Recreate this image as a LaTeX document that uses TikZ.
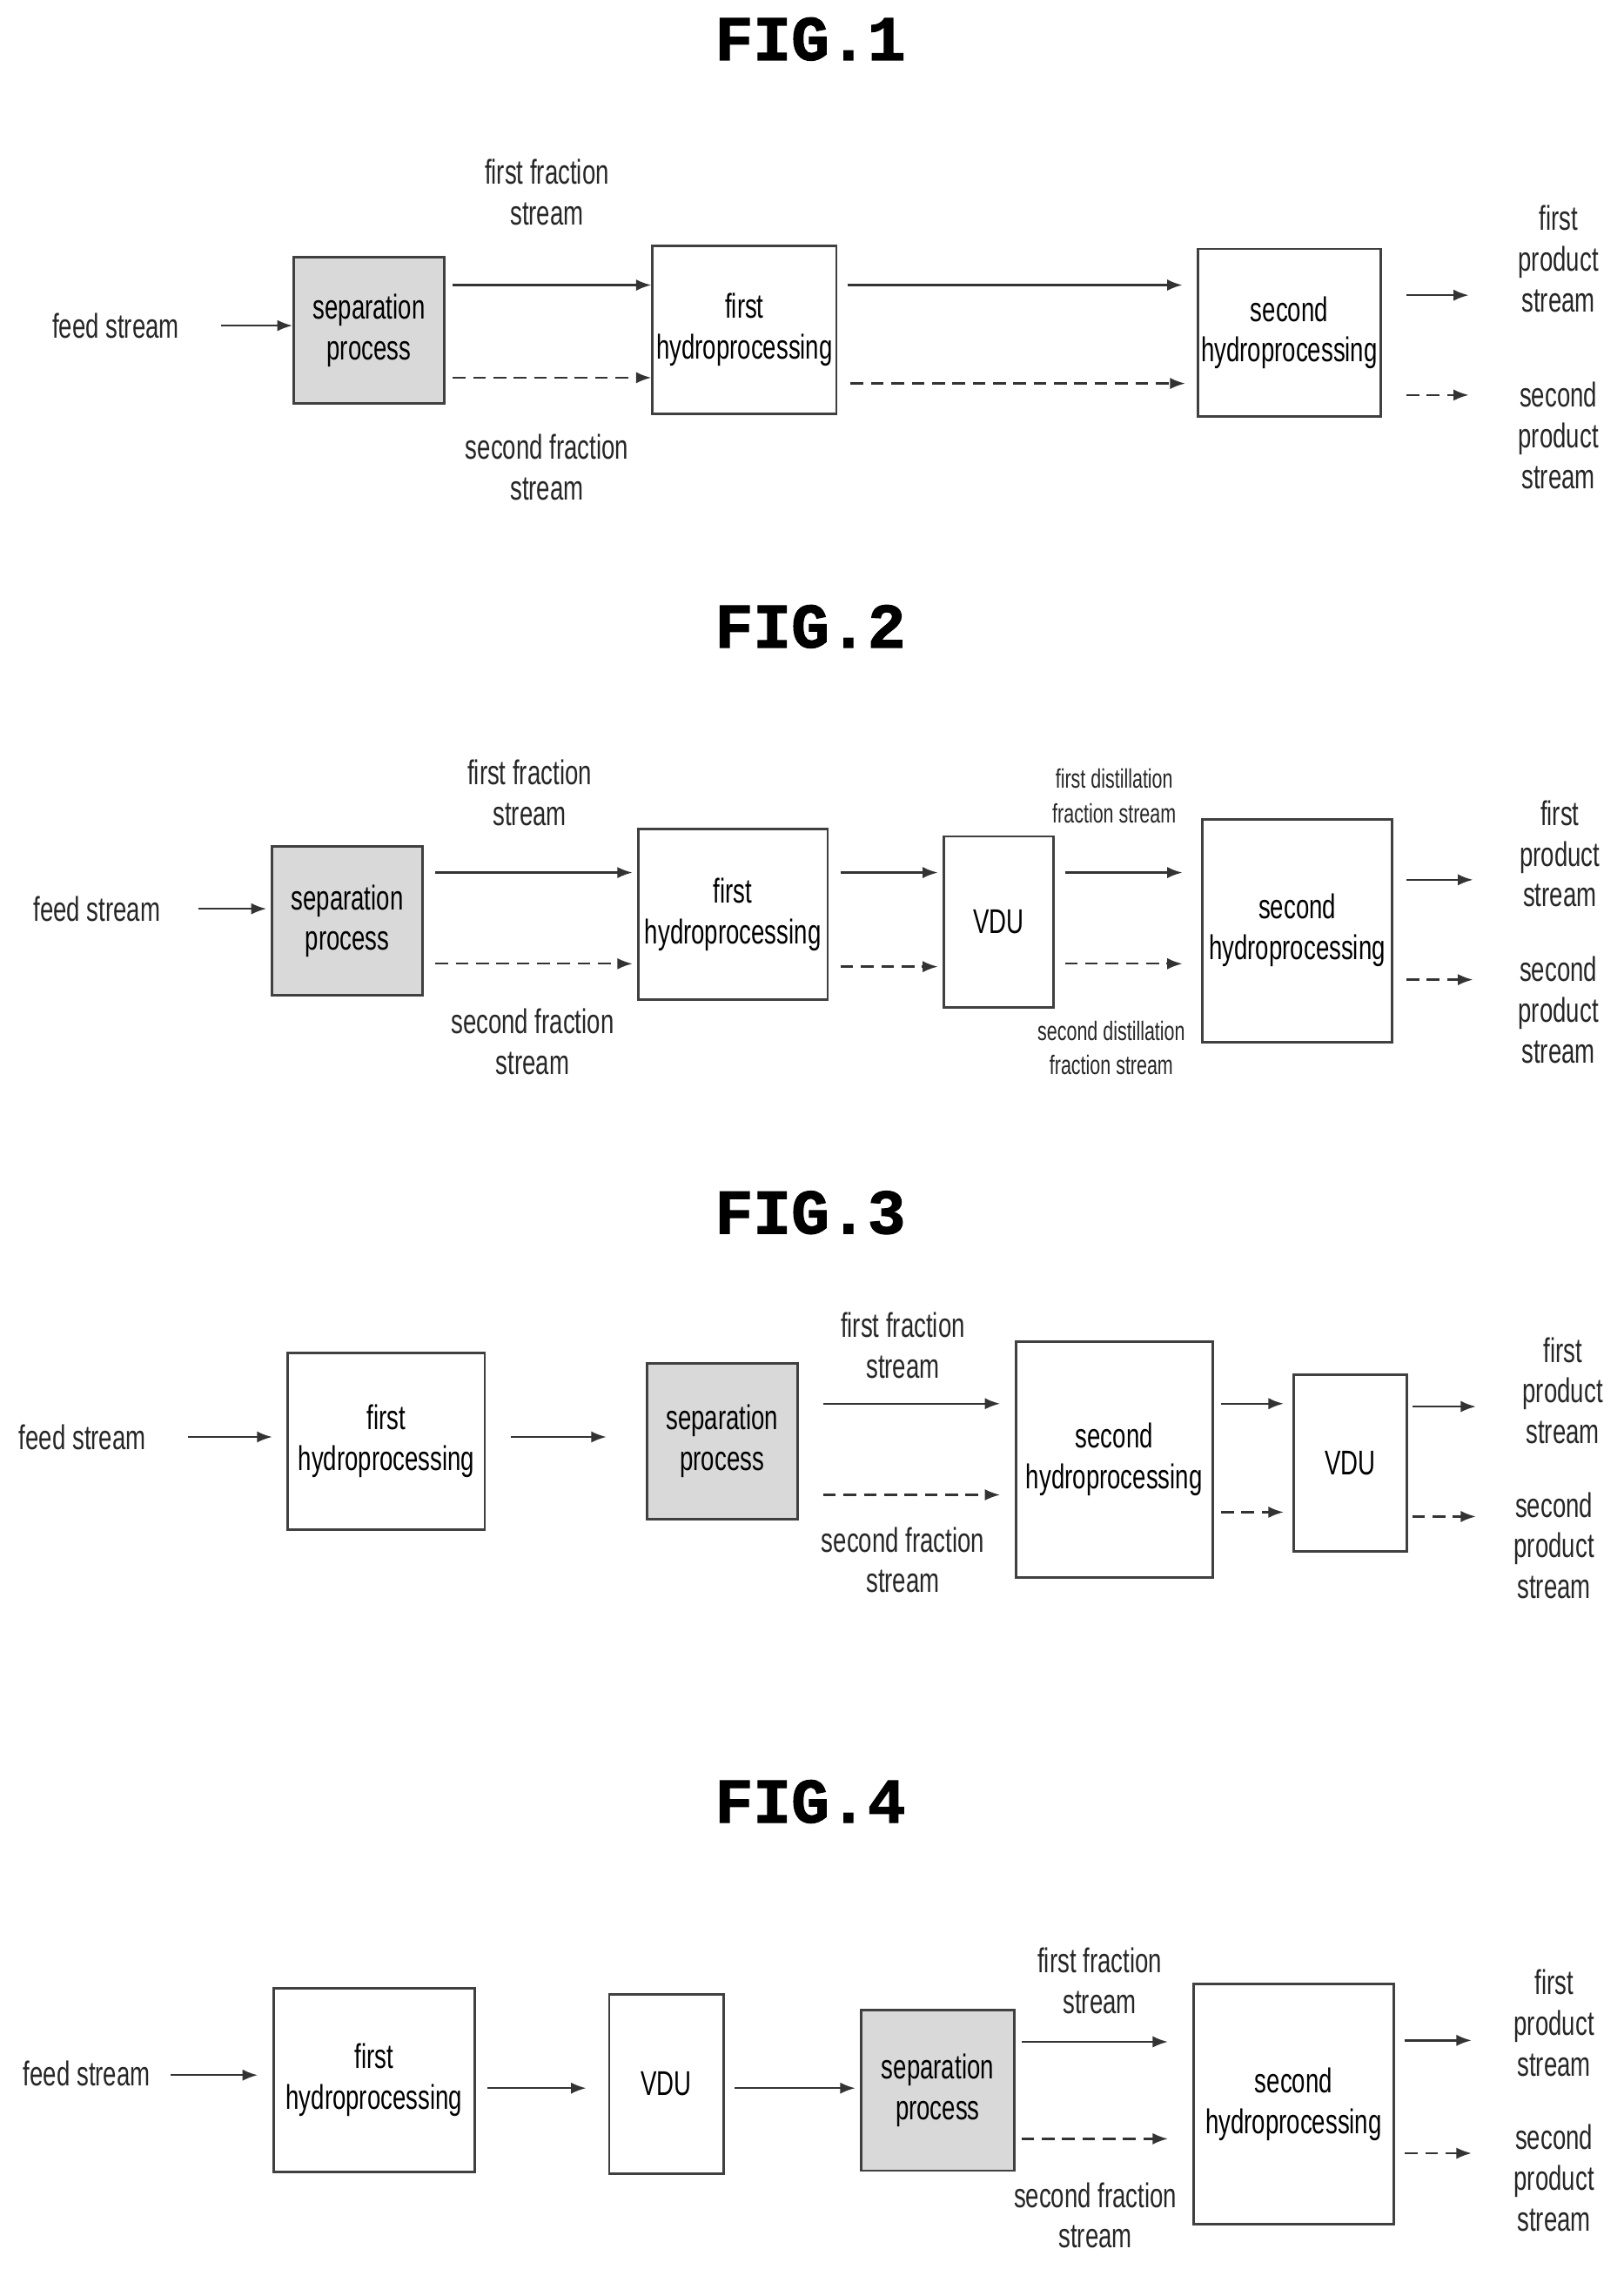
\documentclass[tikz,border=0pt]{standalone}
\usepackage{fontspec}
\setmainfont{Liberation Sans}[FakeStretch=0.7]
\newfontfamily\figfont{Liberation Mono}[FakeBold=1.5]
\usetikzlibrary{arrows.meta}
\begin{document}
\begin{tikzpicture}[x=0.02cm,y=-0.02cm,
 lab/.style={align=center,font=\fontsize{13.5}{16}\selectfont,text=black!85},
 sml/.style={align=center,font=\fontsize{10.5}{13.5}\selectfont,text=black!85},
 ttl/.style={font=\figfont\fontsize{25}{28}\selectfont\bfseries},
 arr/.style={-{Latex[length=6pt,width=4.5pt]},line width=0.8pt,draw=black!80},
 dsh/.style={arr,dash pattern=on 5pt off 3pt},
 bx/.style={draw=black!75,line width=1pt,inner sep=0pt,align=center,font=\fontsize{13.5}{16}\selectfont},
 gr/.style={bx,fill=black!15}]
\newcommand\bx[7]{\node[#7,minimum width={(#4-#2)*0.02cm},minimum height={(#5-#3)*0.02cm}] (#1) at ({(#2+#4)/2},{(#3+#5)/2}) {#6};}
\useasboundingbox (0,0) rectangle (1122,1568);
% FIG 1
\node[ttl] (t1) at (560,27) {FIG.1};
\node[lab] (f1) at (80,225) {feed stream};
\bx{s1}{203}{178}{307}{279}{separation\\process}{gr}
\bx{h1}{451}{170}{578}{286}{first\\hydroprocessing}{bx}
\bx{g1}{828}{172}{954}{288}{second\\hydroprocessing}{bx}
\draw[arr] (153,225) -- (s1.west|-0,225);
\draw[arr] ([xshift=0.1cm]s1.east|-0,197) -- (h1.west|-0,197);
\draw[dsh] ([xshift=0.1cm]s1.east|-0,261) -- (h1.west|-0,261);
\draw[arr] ([xshift=0.14cm]h1.east|-0,197) -- ([xshift=-0.2cm]g1.west|-0,197);
\draw[dsh] ([xshift=0.18cm]h1.east|-0,265) -- ([xshift=-0.16cm]g1.west|-0,265);
\node[lab] (l11) at (378,133) {first fraction\\stream};
\node[lab] (l12) at (378,323) {second fraction\\stream};
\coordinate (o11) at (1015,204); \coordinate (o12) at (1015,273);
\draw[arr] (972,204) -- (o11); \draw[dsh] (972,273) -- (o12);
\node[lab] (p11) at (1077,179) {first\\product\\stream};
\node[lab] (p12) at (1077,301) {second\\product\\stream};
% FIG 2
\node[ttl] (t2) at (560,433) {FIG.2};
\node[lab] (f2) at (67,628) {feed stream};
\bx{s2}{188}{585}{292}{688}{separation\\process}{gr}
\bx{h2}{441}{573}{572}{691}{first\\hydroprocessing}{bx}
\bx{v2}{652}{578}{728}{696}{VDU}{bx}
\bx{g2}{831}{566}{962}{720}{second\\hydroprocessing}{bx}
\draw[arr] (137,628) -- ([xshift=-0.06cm]s2.west|-0,628);
\draw[arr] ([xshift=0.16cm]s2.east|-0,603) -- ([xshift=-0.06cm]h2.west|-0,603);
\draw[dsh] ([xshift=0.16cm]s2.east|-0,666) -- ([xshift=-0.06cm]h2.west|-0,666);
\draw[arr] ([xshift=0.16cm]h2.east|-0,603) -- ([xshift=-0.06cm]v2.west|-0,603);
\draw[dsh] ([xshift=0.16cm]h2.east|-0,668) -- ([xshift=-0.06cm]v2.west|-0,668);
\draw[arr] ([xshift=0.14cm]v2.east|-0,603) -- ([xshift=-0.26cm]g2.west|-0,603);
\draw[dsh] ([xshift=0.14cm]v2.east|-0,666) -- ([xshift=-0.26cm]g2.west|-0,666);
\node[lab] (l21) at (366,548) {first fraction\\stream};
\node[lab] (l22) at (368,720) {second fraction\\stream};
\node[sml] (l23) at (770,550) {first distillation\\fraction stream};
\node[sml] (l24) at (768,724) {second distillation\\fraction stream};
\coordinate (o21) at (1018,608); \coordinate (o22) at (1018,677);
\draw[arr] (972,608) -- (o21); \draw[dsh] (972,677) -- (o22);
\node[lab] (p21) at (1078,590) {first\\product\\stream};
\node[lab] (p22) at (1077,698) {second\\product\\stream};
% FIG 3
\node[ttl] (t3) at (560,838) {FIG.3};
\node[lab] (f3) at (57,993) {feed stream};
\bx{h3}{199}{935}{335}{1057}{first\\hydroprocessing}{bx}
\bx{s3}{447}{942}{551}{1050}{separation\\process}{gr}
\bx{g3}{702}{927}{838}{1090}{second\\hydroprocessing}{bx}
\bx{v3}{894}{950}{972}{1072}{VDU}{bx}
\draw[arr] (130,993) -- ([xshift=-0.2cm]h3.west|-0,993);
\draw[arr] ([xshift=0.34cm]h3.east|-0,993) -- ([xshift=-0.54cm]s3.west|-0,993);
\draw[arr] ([xshift=0.34cm]s3.east|-0,970) -- ([xshift=-0.2cm]g3.west|-0,970);
\draw[dsh] ([xshift=0.34cm]s3.east|-0,1033) -- ([xshift=-0.2cm]g3.west|-0,1033);
\draw[arr] ([xshift=0.1cm]g3.east|-0,970) -- ([xshift=-0.12cm]v3.west|-0,970);
\draw[dsh] ([xshift=0.1cm]g3.east|-0,1045) -- ([xshift=-0.12cm]v3.west|-0,1045);
\node[lab] (l31) at (624,930) {first fraction\\stream};
\node[lab] (l32) at (624,1078) {second fraction\\stream};
\coordinate (o31) at (1020,972); \coordinate (o32) at (1020,1048);
\draw[arr] ([xshift=0.06cm]v3.east|-0,972) -- (o31);
\draw[dsh] ([xshift=0.06cm]v3.east|-0,1048) -- (o32);
\node[lab] (p31) at (1080,961) {first\\product\\stream};
\node[lab] (p32) at (1074,1068) {second\\product\\stream};
% FIG 4
\node[ttl] (t4) at (560,1245) {FIG.4};
\node[lab] (f4) at (60,1433) {feed stream};
\bx{h4}{189}{1374}{328}{1501}{first\\hydroprocessing}{bx}
\bx{v4}{421}{1378}{500}{1502}{VDU}{bx}
\bx{s4}{595}{1389}{701}{1500}{separation\\process}{gr}
\bx{g4}{825}{1371}{963}{1537}{second\\hydroprocessing}{bx}
\draw[arr] (118,1434) -- ([xshift=-0.2cm]h4.west|-0,1434);
\draw[arr] ([xshift=0.16cm]h4.east|-0,1443) -- ([xshift=-0.3cm]v4.west|-0,1443);
\draw[arr] ([xshift=0.14cm]v4.east|-0,1443) -- ([xshift=-0.06cm]s4.west|-0,1443);
\draw[arr] ([xshift=0.08cm]s4.east|-0,1411) -- ([xshift=-0.34cm]g4.west|-0,1411);
\draw[dsh] ([xshift=0.08cm]s4.east|-0,1478) -- ([xshift=-0.34cm]g4.west|-0,1478);
\node[lab] (l41) at (760,1369) {first fraction\\stream};
\node[lab] (l42) at (757,1531) {second fraction\\stream};
\coordinate (o41) at (1017,1410); \coordinate (o42) at (1017,1488);
\draw[arr] ([xshift=0.14cm]g4.east|-0,1410) -- (o41);
\draw[dsh] ([xshift=0.14cm]g4.east|-0,1488) -- (o42);
\node[lab] (p41) at (1074,1398) {first\\product\\stream};
\node[lab] (p42) at (1074,1505) {second\\product\\stream};
\end{tikzpicture}
\end{document}
